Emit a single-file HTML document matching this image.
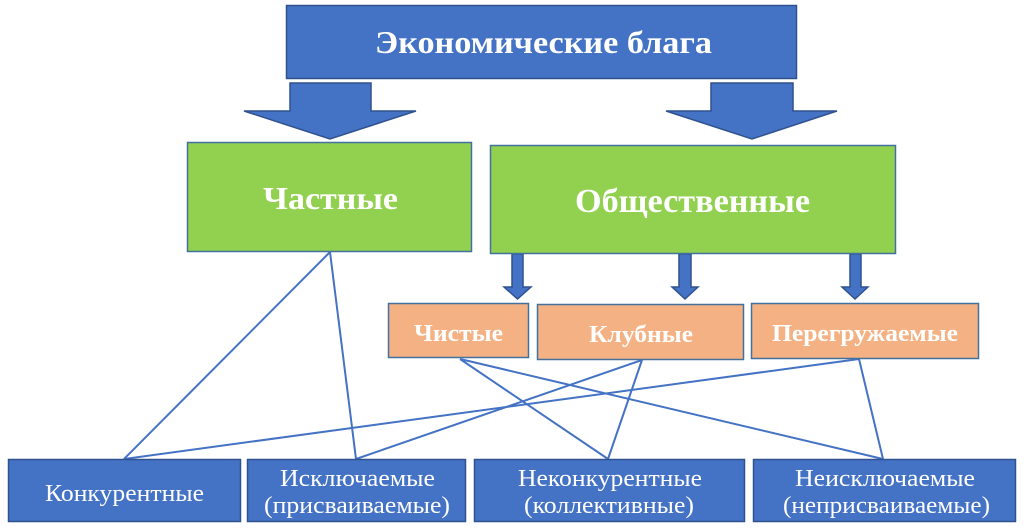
<!DOCTYPE html>
<html><head><meta charset="utf-8"><style>
html,body{margin:0;padding:0;background:#fff;}
svg{display:block;}
text{font-family:"Liberation Serif","Noto Serif CJK SC",serif;fill:#fff;}
.b{font-weight:bold;}
</style></head><body>
<svg width="1024" height="528" viewBox="0 0 1024 528" xmlns="http://www.w3.org/2000/svg">
<!-- connectors -->
<g stroke="#4472C4" stroke-width="2" fill="none">
<line x1="330" y1="252" x2="124" y2="459"/>
<line x1="330" y1="252" x2="356" y2="459"/>
<line x1="460" y1="359" x2="608" y2="459"/>
<line x1="460" y1="359" x2="883" y2="459"/>
<line x1="642" y1="360" x2="356" y2="459"/>
<line x1="642" y1="360" x2="608" y2="459"/>
<line x1="859" y1="359" x2="124" y2="459"/>
<line x1="859" y1="359" x2="883" y2="459"/>
</g>
<!-- top box -->
<rect x="286.5" y="5.5" width="510" height="73" fill="#4472C4" stroke="#2F528F" stroke-width="1.5"/>
<text class="b" x="543.5" y="53" font-size="32" text-anchor="middle" textLength="337" lengthAdjust="spacingAndGlyphs">Экономические блага</text>
<!-- big arrows -->
<g fill="#4472C4" stroke="#2F528F" stroke-width="1.5" stroke-linejoin="miter">
<polygon points="290,83 371,83 371,111 416,111 330,139 244,111 290,111"/>
<polygon points="711,83 793,83 793,111 837,111 752,139 666,111 711,111"/>
<polygon points="512,254 523,254 523,287 531,287 517.5,299 504,287 512,287"/>
<polygon points="679,254 691,254 691,287 698,287 685,299 672,287 679,287"/>
<polygon points="850,254 861,254 861,287 868,287 855,299 842,287 850,287"/>
</g>
<!-- green boxes -->
<rect x="187.5" y="142.5" width="284" height="109" fill="#92D050" stroke="#41719C" stroke-width="1.5"/>
<text class="b" x="330.5" y="209" font-size="32" text-anchor="middle" textLength="135" lengthAdjust="spacingAndGlyphs">Частные</text>
<rect x="490.5" y="145.5" width="405" height="108" fill="#92D050" stroke="#41719C" stroke-width="1.5"/>
<text class="b" x="692.5" y="212" font-size="34" text-anchor="middle" textLength="235" lengthAdjust="spacingAndGlyphs">Общественные</text>
<!-- orange boxes -->
<g fill="#F4B183" stroke="#41719C" stroke-width="1.5">
<rect x="388.5" y="303.5" width="140" height="54"/>
<rect x="537.5" y="304.5" width="206" height="55"/>
<rect x="751.5" y="303.5" width="227" height="55"/>
</g>
<text class="b" x="458.5" y="341" font-size="24" text-anchor="middle" textLength="89" lengthAdjust="spacingAndGlyphs">Чистые</text>
<text class="b" x="641" y="342" font-size="24" text-anchor="middle" textLength="104" lengthAdjust="spacingAndGlyphs">Клубные</text>
<text class="b" x="865" y="341" font-size="24" text-anchor="middle" textLength="186" lengthAdjust="spacingAndGlyphs">Перегружаемые</text>
<!-- bottom boxes -->
<g fill="#4472C4" stroke="#2F528F" stroke-width="1.5">
<rect x="8.5" y="459.5" width="232" height="62"/>
<rect x="247.5" y="459.5" width="218" height="62"/>
<rect x="474.5" y="459.5" width="270" height="62"/>
<rect x="753.5" y="459.5" width="262" height="62"/>
</g>
<g font-size="24" text-anchor="middle">
<text x="124.5" y="501" textLength="159" lengthAdjust="spacingAndGlyphs">Конкурентные</text>
<text x="357.5" y="486" textLength="155" lengthAdjust="spacingAndGlyphs">Исключаемые</text>
<text x="357" y="513" textLength="186" lengthAdjust="spacingAndGlyphs">(присваиваемые)</text>
<text x="610" y="486" textLength="184" lengthAdjust="spacingAndGlyphs">Неконкурентные</text>
<text x="609" y="513" textLength="170" lengthAdjust="spacingAndGlyphs">(коллективные)</text>
<text x="885" y="486" textLength="180" lengthAdjust="spacingAndGlyphs">Неисключаемые</text>
<text x="886.5" y="513" textLength="207" lengthAdjust="spacingAndGlyphs">(неприсваиваемые)</text>
</g>
</svg>
</body></html>
